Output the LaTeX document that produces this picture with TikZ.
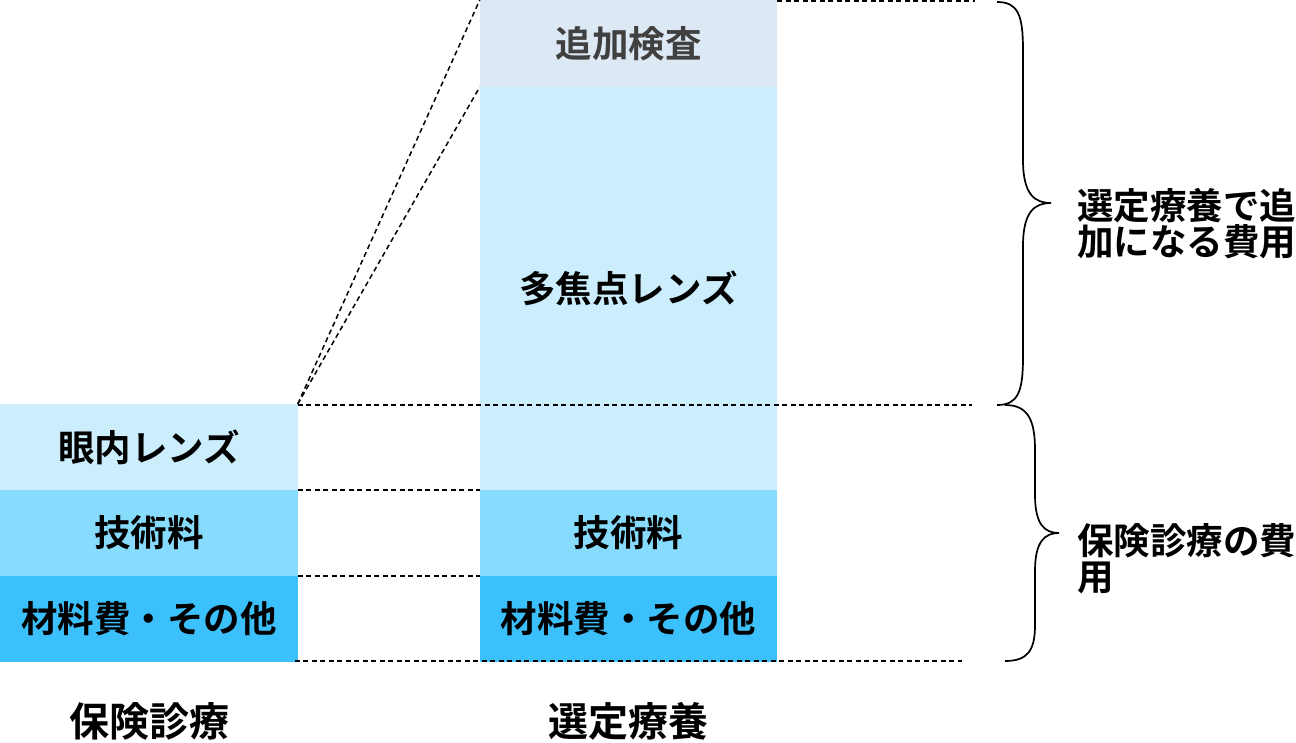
\documentclass[tikz,border=0pt]{standalone}
\usepackage{fontspec}
\setmainfont{Noto Sans CJK JP}[BoldFont={Noto Sans CJK JP Bold}]
\definecolor{cGray}{HTML}{DCE8F4}
\definecolor{cLight}{HTML}{CCEEFC}
\definecolor{cMid}{HTML}{87DCFD}
\definecolor{cDark}{HTML}{3BC0FB}
\definecolor{cText}{HTML}{404040}
\begin{document}
\begin{tikzpicture}[x=1pt,y=-1pt,
  seg/.style={rectangle, inner sep=0pt, outer sep=0pt, minimum width=297.5pt, font=\bfseries\fontsize{36.5}{40}\selectfont},
  dline/.style={draw=black, line width=1.5pt, dash pattern=on 5pt off 3.5pt},
  brace/.style={draw=black, line width=1.7pt},
  lab/.style={font=\bfseries\fontsize{40}{44}\selectfont, inner sep=0pt},
  side/.style={font=\bfseries\fontsize{36.5}{36}\selectfont, inner sep=0pt, align=left, anchor=west}]
\useasboundingbox (0,0) rectangle (1296,742);
% left column
\node[seg, fill=cLight, minimum height=86pt] (L1) at (149,447) {眼内レンズ};
\node[seg, fill=cMid, minimum height=86pt] (L2) at (149,533) {技術料};
\node[seg, fill=cDark, minimum height=86pt] (L3) at (149,619) {材料費・その他};
% right column
\node[seg, fill=cGray, text=cText, minimum height=87pt] (R0) at (628.5,43.5) {追加検査};
\node[seg, fill=cLight, minimum height=403pt] (R1) at (628.5,288.5) {多焦点レンズ};
\node[seg, fill=cMid, minimum height=86pt] (R2) at (628.5,533) {技術料};
\node[seg, fill=cDark, minimum height=86pt] (R3) at (628.5,619) {材料費・その他};
% free ends
\coordinate (e0) at (975,1);
\coordinate (e1) at (972,405);
\coordinate (e3) at (962,661);
% dashed connectors
\draw[dline] (L1.north east) -- (R0.north west);
\draw[dline] (L1.north east) -- (R0.south west);
\draw[dline] (R0.north east) ++(0,1) -- (e0);
\draw[dline] (L1.north east) ++(0,1) -- (e1);
\draw[dline] (L2.north east) -- (R2.north west);
\draw[dline] (L3.north east) -- (R3.north west);
\draw[dline] (L3.south east) ++(-3,-1) -- (e3);
% braces
\coordinate (b1) at (1051,203);
\draw[brace] (997,2) .. controls (1018,2) and (1023,15) .. (1023,50) -- (1023,160) .. controls (1023,195) and (1035,203) .. (b1)
  .. controls (1035,203) and (1023,211) .. (1023,246) -- (1023,357) .. controls (1023,392) and (1018,405) .. (997,405);
\coordinate (b2) at (1059,533);
\draw[brace] (1005,405) .. controls (1028,405) and (1035,420) .. (1035,450) -- (1035,495) .. controls (1035,525) and (1045,533) .. (b2)
  .. controls (1045,533) and (1035,541) .. (1035,571) -- (1035,625) .. controls (1035,650) and (1028,661) .. (1005,661);
% side labels
\node[side] (S1) at (1077,224) {選定療養で追\\加になる費用};
\node[side] (S2) at (1077,559) {保険診療の費\\用};
% bottom labels
\node[lab] (B1) at (149,721) {保険診療};
\node[lab] (B2) at (628,721) {選定療養};
\end{tikzpicture}
\end{document}
